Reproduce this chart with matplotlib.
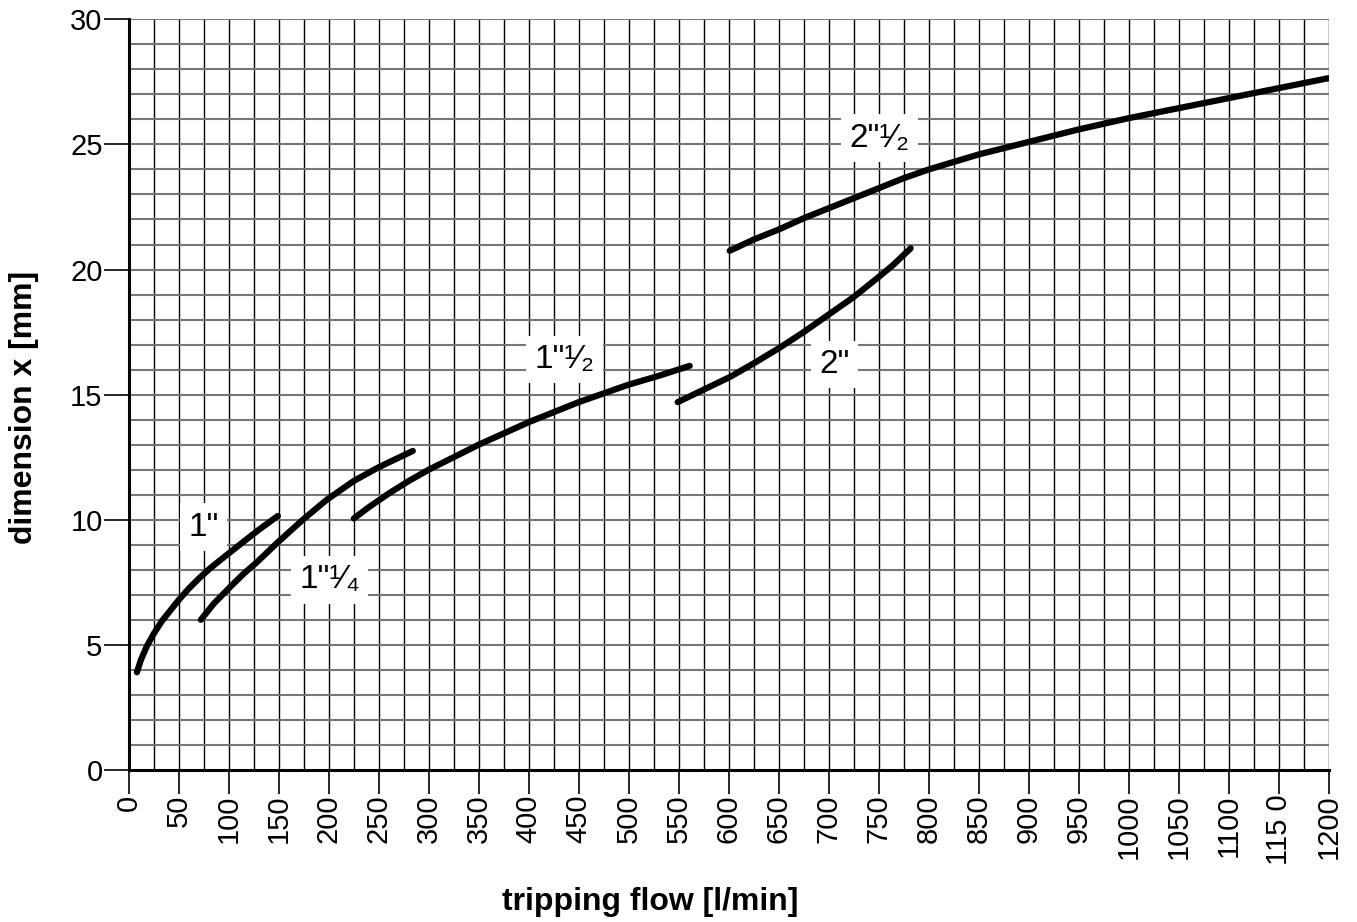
import matplotlib.pyplot as plt
import numpy as np

plt.rcParams['font.family'] = ['Liberation Sans', 'DejaVu Sans']

# curve data (flow l/min, dimension mm)
flow_1 = [8, 12, 18, 25, 33, 41, 50, 60, 70, 81, 95, 114, 130, 149]
dim_1 = [3.9, 4.4, 4.95, 5.45, 5.95, 6.35, 6.8, 7.25, 7.65, 8.05, 8.5, 9.1, 9.6, 10.15]

flow_114 = [72, 85, 101, 115, 128, 149, 174, 198, 225, 250, 284]
dim_114 = [6.0, 6.65, 7.3, 7.85, 8.3, 9.1, 10.0, 10.8, 11.55, 12.1, 12.75]

flow_112 = [225, 240, 260, 280, 300, 325, 350, 375, 400, 425, 450, 475, 500, 530, 561]
dim_112 = [10.05, 10.5, 11.05, 11.55, 12.0, 12.5, 13.0, 13.45, 13.9, 14.3, 14.7, 15.05, 15.4, 15.75, 16.15]

flow_2 = [549, 575, 601, 625, 650, 675, 700, 725, 750, 765, 782]
dim_2 = [14.7, 15.2, 15.7, 16.25, 16.85, 17.5, 18.2, 18.9, 19.7, 20.2, 20.85]

flow_212 = [601, 625, 650, 675, 700, 725, 750, 775, 800, 825, 850, 875, 900, 950,
            1000, 1050, 1100, 1150, 1200]
dim_212 = [20.75, 21.2, 21.6, 22.05, 22.45, 22.85, 23.25, 23.65, 24.0, 24.3, 24.6,
           24.85, 25.1, 25.6, 26.05, 26.45, 26.85, 27.25, 27.65]

labels = ['1"', '1"\u00b9\u2044\u2084', '1"\u00b9\u2044\u2082', '2"', '2"\u00b9\u2044\u2082']
label_x = [75, 201, 436, 706, 751]
label_y = [9.7, 7.6, 16.4, 16.2, 25.25]

x_ticks = list(range(0, 1201, 50))
x_tick_labels = [str(v) for v in x_ticks]
x_tick_labels[x_ticks.index(1150)] = '115 0'

fig = plt.figure(figsize=(13.57, 9.22), dpi=100)
ax = fig.add_axes([0.095, 0.165, 0.884, 0.814])

ax.set_xlim(0, 1200)
ax.set_ylim(0, 30)

# grid: vertical every 25, horizontal every 1
for xv in np.arange(25, 1201, 25):
    ax.axvline(xv, color='black', lw=1.0, zorder=1)
for yv in np.arange(1, 31, 1):
    ax.axhline(yv, color='#777777', lw=1.5, zorder=1)

for f, d in [(flow_1, dim_1), (flow_114, dim_114), (flow_112, dim_112),
             (flow_2, dim_2), (flow_212, dim_212)]:
    ax.plot(f, d, color='black', lw=4.5, solid_capstyle='round',
            solid_joinstyle='round', zorder=3)

for t, lx, ly in zip(labels, label_x, label_y):
    ax.text(lx, ly, t, fontsize=24, ha='center', va='center', zorder=4,
            bbox=dict(facecolor='white', edgecolor='none', pad=6))

ax.spines['top'].set_visible(False)
ax.spines['right'].set_visible(False)
ax.spines['left'].set_linewidth(2.2)
ax.spines['bottom'].set_linewidth(2.2)

ax.set_xticks(x_ticks)
ax.set_xticklabels(x_tick_labels, rotation=90, fontsize=21)
ax.set_yticks(range(0, 31, 5))
ax.tick_params(axis='y', labelsize=21, length=18, width=1.2, pad=1)
ax.tick_params(axis='x', length=17, width=1.2, pad=1)

fig.text(650 / 1357, 1 - 902 / 922, 'tripping flow [l/min]', fontsize=23,
         fontweight='bold', ha='center', va='center')
fig.text(24 / 1357, 1 - 407 / 922, 'dimension x [mm]', fontsize=23,
         fontweight='bold', ha='center', va='center', rotation=90)

fig.savefig('out.png', dpi=100)
